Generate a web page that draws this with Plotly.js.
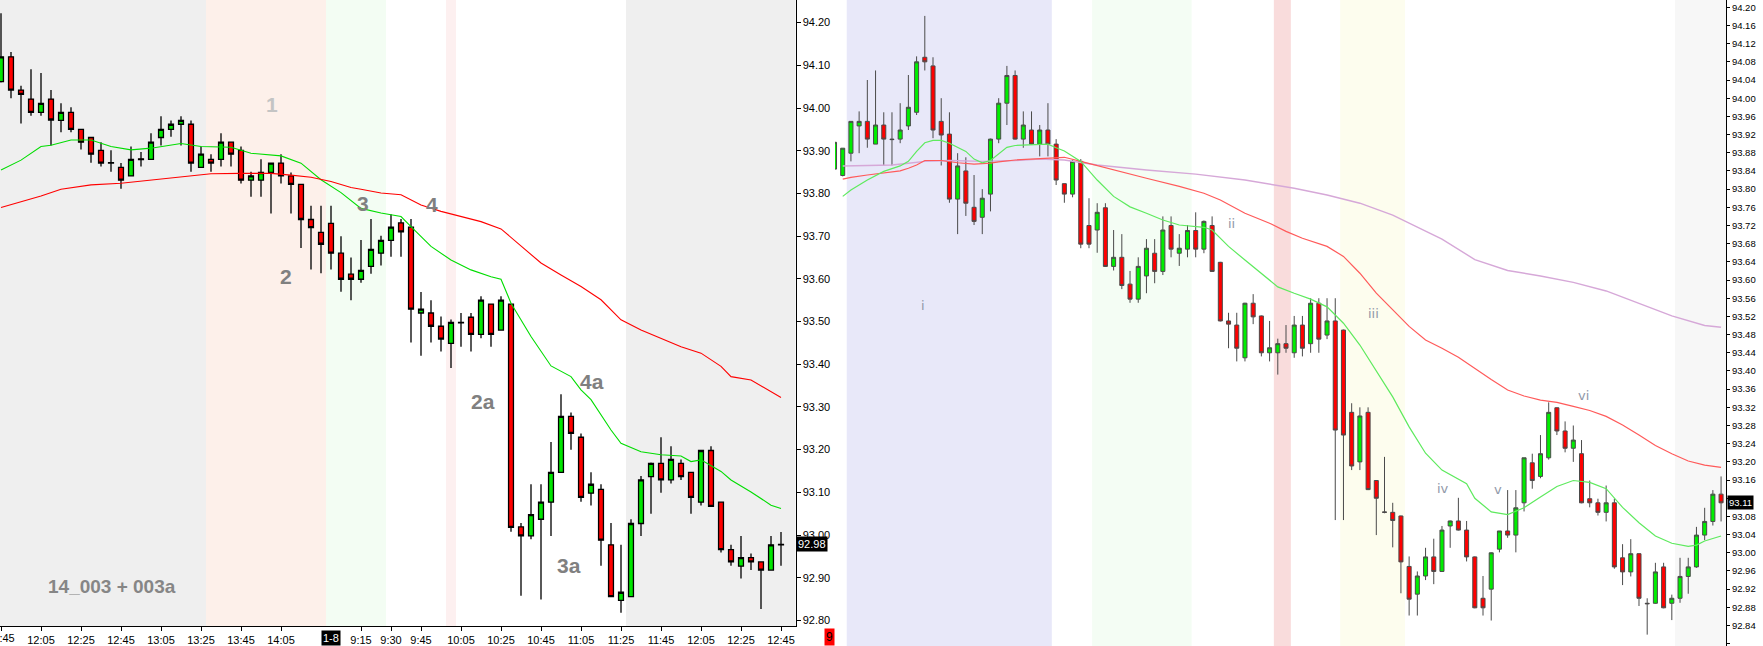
<!DOCTYPE html>
<html>
<head>
<meta charset="utf-8">
<script src="https://cdn.plot.ly/plotly-3.0.1.min.js"></script>
<style>html,body{margin:0;padding:0;background:#fff;}#chart{width:1763px;height:646px;}</style>
</head>
<body>
<div id="chart"></div>
<script>
// ---------- LEFT PANEL DATA (5-minute bars) ----------
const leftOpen  = [94.062,94.120,94.042,94.021,93.990,94.021,93.971,93.990,93.950,93.931,93.901,93.872,93.861,93.841,93.881,93.880,93.931,93.950,93.962,93.962,93.861,93.880,93.880,93.920,93.901,93.831,93.831,93.849,93.871,93.841,93.821,93.739,93.709,93.730,93.660,93.611,93.599,93.629,93.660,93.690,93.731,93.721,93.520,93.520,93.489,93.449,93.498,93.510,93.470,93.541,93.480,93.541,93.019,92.998,93.037,93.077,93.147,93.278,93.229,93.098,93.107,92.977,92.847,92.856,93.027,93.137,93.168,93.129,93.168,93.147,93.077,93.198,93.077,92.966,92.927,92.947,92.937,92.918,92.978];
const leftHigh  = [94.222,94.131,94.052,94.091,94.082,94.042,94.011,94.002,93.950,93.931,93.920,93.901,93.871,93.910,93.897,93.941,93.981,93.971,93.981,93.971,93.910,93.892,93.941,93.920,93.910,93.851,93.880,93.871,93.892,93.849,93.821,93.771,93.771,93.771,93.700,93.650,93.691,93.740,93.701,93.751,93.740,93.740,93.569,93.550,93.512,93.505,93.520,93.520,93.559,93.541,93.559,93.541,93.028,93.119,93.119,93.218,93.330,93.287,93.238,93.147,93.119,93.028,92.977,93.037,93.138,93.170,93.229,93.208,93.177,93.147,93.198,93.208,93.077,92.977,92.998,92.957,92.937,92.998,93.007];
const leftLow   = [94.060,94.023,93.964,93.982,93.982,93.912,93.943,93.943,93.903,93.872,93.863,93.851,93.811,93.841,93.863,93.880,93.912,93.933,93.912,93.851,93.861,93.851,93.863,93.863,93.823,93.792,93.792,93.753,93.823,93.753,93.672,93.622,93.613,93.622,93.570,93.550,93.591,93.612,93.631,93.652,93.652,93.451,93.420,93.451,93.430,93.391,93.441,93.430,93.461,93.441,93.480,93.008,92.858,92.990,92.849,92.998,93.147,93.200,93.078,93.069,92.928,92.856,92.818,92.856,92.998,93.050,93.099,93.121,93.129,93.050,93.069,93.067,92.959,92.928,92.898,92.918,92.827,92.918,92.928];
const leftClose = [94.120,94.042,94.032,93.990,94.011,93.972,93.990,93.950,93.920,93.892,93.871,93.871,93.831,93.880,93.879,93.920,93.950,93.962,93.971,93.871,93.892,93.871,93.920,93.892,93.831,93.841,93.849,93.871,93.841,93.821,93.739,93.720,93.681,93.660,93.599,93.599,93.620,93.669,93.690,93.721,93.710,93.529,93.529,93.489,93.459,93.498,93.497,93.470,93.550,93.470,93.550,93.018,92.998,93.048,93.077,93.147,93.278,93.238,93.088,93.119,92.988,92.856,92.866,93.027,93.129,93.168,93.129,93.177,93.137,93.088,93.198,93.067,92.966,92.937,92.947,92.937,92.918,92.977,92.977];

const leftFastX = [0,2,4,5,7,9,11,13,15,17,18,20,23,25,28,30,32,34,36,38,40,41,43,45,47,49,50,51,53,55,57,58,59,61,62,64,66,68,69,70,72,73,75,77,78];
const leftFastY = [93.855,93.878,93.910,93.913,93.925,93.925,93.910,93.902,93.906,93.913,93.917,93.910,93.908,93.894,93.888,93.871,93.832,93.802,93.765,93.754,93.746,93.722,93.676,93.644,93.621,93.605,93.599,93.543,93.465,93.396,93.371,93.340,93.317,93.246,93.215,93.195,93.188,93.185,93.172,93.176,93.149,93.129,93.101,93.070,93.062];
const leftSlowX = [0,2,4,6,9,12,15,18,21,24,27,29,31,33,35,36,38,40,42,44,46,48,50,52,54,56,58,60,62,64,66,68,70,72,73,75,78];
const leftSlowY = [93.767,93.781,93.794,93.810,93.820,93.824,93.831,93.839,93.846,93.847,93.847,93.843,93.838,93.828,93.814,93.810,93.801,93.797,93.773,93.758,93.746,93.734,93.717,93.676,93.637,93.609,93.582,93.551,93.504,93.480,93.461,93.441,93.426,93.395,93.371,93.363,93.322];

const leftTickPos  = [0,4,8,12,16,20,24,28,36,39,42,46,50,54,58,62,66,70,74,78];
const leftTickText = ['11:45','12:05','12:25','12:45','13:05','13:25','13:45','14:05','9:15','9:30','9:45','10:05','10:25','10:45','11:05','11:25','11:45','12:05','12:25','12:45'];
const dayMarkPos = 33;
const dayMarkText = '1-8';

// ---------- RIGHT PANEL DATA (bars -1 .. 107) ----------
const rightOpen  = [93.844,93.830,93.879,93.939,93.949,93.899,93.941,93.910,93.910,93.939,93.969,94.090,94.071,93.949,93.921,93.778,93.840,93.760,93.738,93.789,93.910,93.989,94.050,93.910,93.930,93.899,93.930,93.899,93.812,93.789,93.861,93.720,93.710,93.759,93.630,93.650,93.591,93.558,93.609,93.659,93.619,93.720,93.659,93.668,93.709,93.668,93.720,93.639,93.510,93.501,93.429,93.549,93.521,93.440,93.440,93.460,93.440,93.501,93.460,93.549,93.479,93.510,93.490,93.309,93.200,93.309,93.159,93.090,93.089,93.081,92.970,92.909,92.949,92.991,92.959,93.059,93.070,93.050,92.991,92.900,92.920,93.008,93.048,93.039,93.110,93.198,93.168,93.209,93.319,93.268,93.230,93.218,93.119,93.110,93.089,93.110,92.989,92.958,92.998,92.889,92.889,92.969,92.889,92.900,92.948,92.969,93.039,93.069,93.129];
const rightHigh  = [93.903,93.890,93.949,93.971,94.040,94.061,93.969,93.969,93.989,94.051,94.092,94.181,94.090,94.000,93.969,93.879,93.870,93.831,93.800,93.911,94.000,94.071,94.061,93.971,93.971,93.941,93.989,93.910,93.812,93.864,93.866,93.780,93.769,93.769,93.710,93.701,93.620,93.650,93.690,93.690,93.740,93.740,93.701,93.721,93.749,93.731,93.740,93.640,93.528,93.528,93.550,93.569,93.522,93.510,93.471,93.501,93.521,93.521,93.560,93.560,93.560,93.560,93.491,93.329,93.320,93.320,93.160,93.211,93.110,93.082,92.992,92.959,93.011,93.031,93.059,93.071,93.121,93.070,92.992,92.949,93.001,93.048,93.138,93.138,93.209,93.218,93.259,93.331,93.320,93.289,93.280,93.248,93.159,93.119,93.148,93.119,93.019,93.030,92.999,92.900,92.978,92.978,92.908,92.989,92.989,93.057,93.099,93.138,93.168];
const rightLow   = [93.844,93.828,93.861,93.879,93.891,93.899,93.852,93.852,93.901,93.930,93.963,94.061,93.912,93.852,93.770,93.701,93.741,93.721,93.701,93.751,93.901,93.941,93.909,93.891,93.898,93.872,93.872,93.809,93.770,93.782,93.670,93.670,93.660,93.629,93.621,93.580,93.550,93.550,93.571,93.593,93.611,93.650,93.631,93.650,93.650,93.659,93.618,93.509,93.450,93.421,93.421,93.503,93.432,93.421,93.392,93.440,93.429,93.432,93.440,93.440,93.470,93.072,93.072,93.182,93.182,93.138,93.039,93.087,93.012,92.911,92.862,92.862,92.940,92.931,92.958,93.011,93.049,92.981,92.878,92.862,92.851,93.001,93.033,93.001,93.091,93.141,93.164,93.205,93.259,93.221,93.200,93.109,93.100,93.082,93.069,92.965,92.929,92.948,92.883,92.820,92.888,92.878,92.852,92.890,92.910,92.967,93.028,93.060,93.069];
const rightClose = [93.903,93.890,93.949,93.949,93.910,93.941,93.910,93.909,93.930,93.980,94.080,94.080,93.930,93.919,93.778,93.851,93.769,93.729,93.780,93.910,93.989,94.050,93.910,93.941,93.899,93.930,93.899,93.820,93.789,93.861,93.679,93.679,93.749,93.630,93.650,93.588,93.558,93.630,93.670,93.619,93.710,93.668,93.670,93.709,93.668,93.729,93.619,93.510,93.503,93.450,93.549,93.519,93.440,93.451,93.460,93.450,93.501,93.450,93.549,93.470,93.510,93.270,93.259,93.191,93.301,93.139,93.120,93.089,93.071,92.980,92.898,92.949,92.991,92.959,93.050,93.070,93.050,92.991,92.879,92.879,93.000,93.048,93.039,93.099,93.209,93.159,93.218,93.309,93.268,93.230,93.248,93.110,93.110,93.089,93.110,92.969,92.958,92.998,92.900,92.888,92.958,92.879,92.900,92.948,92.969,93.039,93.069,93.129,93.110];

const rightFastX = [0,1,3,5,7,8,9,10,11,12,13,15,16,17,18,19,20,21,23,25,26,27,29,31,33,35,37,39,41,43,44,45,47,49,51,53,55,57,59,60,61,63,65,67,69,71,73,75,76,77,78,79,81,83,85,87,89,91,93,95,97,99,101,103,104,105,107];
const rightFastY = [93.784,93.798,93.820,93.839,93.851,93.861,93.883,93.902,93.907,93.907,93.901,93.883,93.866,93.858,93.863,93.877,93.892,93.896,93.897,93.899,93.891,93.884,93.861,93.820,93.784,93.761,93.747,93.732,93.721,93.717,93.716,93.710,93.674,93.644,93.615,93.585,93.571,93.558,93.541,93.523,93.505,93.457,93.399,93.343,93.277,93.219,93.182,93.162,93.152,93.120,93.104,93.090,93.084,93.099,93.123,93.146,93.159,93.155,93.141,93.100,93.066,93.037,93.021,93.014,93.017,93.026,93.037];
const rightMidX = [0,1,3,5,7,8,9,10,12,14,16,18,19,21,23,25,27,29,33,37,41,44,46,49,52,54,56,58,59,61,63,65,67,69,71,73,75,77,79,81,83,85,87,89,91,93,95,97,99,101,103,105,107];
const rightMidY = [93.822,93.826,93.831,93.836,93.840,93.846,93.853,93.863,93.863,93.858,93.855,93.857,93.860,93.864,93.866,93.869,93.870,93.861,93.842,93.824,93.806,93.791,93.776,93.747,93.725,93.707,93.692,93.681,93.674,93.652,93.615,93.571,93.534,93.498,93.468,93.450,93.430,93.405,93.381,93.358,93.345,93.336,93.331,93.322,93.313,93.300,93.281,93.259,93.236,93.218,93.202,93.193,93.188];
const rightSlowX = [0,3,6,8,10,13,17,21,24,27,31,37,43,49,55,59,63,67,73,77,81,85,89,93,97,101,105,107];
const rightSlowY = [93.851,93.852,93.853,93.857,93.861,93.863,93.861,93.863,93.866,93.864,93.853,93.842,93.833,93.820,93.802,93.787,93.769,93.743,93.690,93.645,93.621,93.609,93.595,93.576,93.548,93.521,93.500,93.496];

const leftLabels  = ['1','2','3','4','2a','4a','3a'];
const leftLabelX  = [27.1,28.5,36.2,43.1,48.2,59.1,56.8];
const leftLabelY  = [94.009,93.606,93.777,93.773,93.312,93.359,92.928];
const rightLabels = ['i','ii','iii','iv','v','vi'];
const rightLabelX = [9.8,47.4,64.7,73.1,79.8,90.3];
const rightLabelY = [93.543,93.725,93.527,93.142,93.140,93.345];
const panelNote = '14_003 + 003a';

const leftLast = 92.98;
const rightLast = 93.11;

// ---------- BUILD ----------
const W = 1763, H = 646;
const leftX = leftOpen.map((_, k) => k);
const rightX = rightOpen.map((_, k) => k - 1);

// right-axis ticks every 0.04; the one hidden under the last-price box is left blank
const rTickVals = [], rTickText = [];
for (let k = 0; k <= 35; k++) {
  const v = Math.round((92.80 + 0.04 * k) * 100) / 100;
  rTickVals.push(v);
  rTickText.push(Math.abs(v - rightLast) < 0.015 ? '' : v.toFixed(2));
}

const traces = [
  {type:'scatter', mode:'lines', x:leftFastX, y:leftFastY, xaxis:'x', yaxis:'y', line:{color:'#00dd00', width:1.1}, hoverinfo:'skip'},
  {type:'scatter', mode:'lines', x:leftSlowX, y:leftSlowY, xaxis:'x', yaxis:'y', line:{color:'#ff0000', width:1.1}, hoverinfo:'skip'},
  {type:'candlestick', x:leftX, open:leftOpen, high:leftHigh, low:leftLow, close:leftClose, xaxis:'x', yaxis:'y',
   increasing:{line:{color:'#000000', width:1.3}, fillcolor:'#00e600'},
   decreasing:{line:{color:'#000000', width:1.3}, fillcolor:'#ff0000'},
   whiskerwidth:0, hoverinfo:'skip'},
  {type:'scatter', mode:'lines', x:rightSlowX, y:rightSlowY, xaxis:'x2', yaxis:'y2', line:{color:'#d6a8d8', width:1.4}, hoverinfo:'skip'},
  {type:'scatter', mode:'lines', x:rightMidX, y:rightMidY, xaxis:'x2', yaxis:'y2', line:{color:'#ff5a5a', width:1.2}, hoverinfo:'skip'},
  {type:'scatter', mode:'lines', x:rightFastX, y:rightFastY, xaxis:'x2', yaxis:'y2', line:{color:'#5eea5e', width:1.2}, hoverinfo:'skip'},
  {type:'candlestick', x:rightX, open:rightOpen, high:rightHigh, low:rightLow, close:rightClose, xaxis:'x2', yaxis:'y2',
   increasing:{line:{color:'#4a4a4a', width:1}, fillcolor:'#00ee00'},
   decreasing:{line:{color:'#4a4a4a', width:1}, fillcolor:'#ff0000'},
   whiskerwidth:0, hoverinfo:'skip'}
];

function band(xref, x0, x1, color) {
  return {type:'rect', layer:'below', xref:xref, yref:(xref==='x'?'y domain':'y2 domain'), x0:x0, x1:x1, y0:0, y1:1, fillcolor:color, line:{width:0}};
}
const shapes = [
  band('x', -1, 20.5, '#efefef'),
  band('x', 20.5, 32.5, '#fdf0ea'),
  band('x', 32.5, 38.5, '#f3fdf3'),
  band('x', 44.5, 45.5, '#fdf0f0'),
  band('x', 62.5, 80, '#efefef'),
  band('x2', 0.49, 25.47, '#e8e8f9'),
  band('x2', 30.38, 42.5, '#f4fdf4'),
  band('x2', 52.52, 54.59, '#f9dcdc'),
  band('x2', 60.6, 68.5, '#fdfdee'),
  band('x2', 101.4, 110, '#f7f7f7')
];

const A = (o) => Object.assign({showarrow:false, xanchor:'center', yanchor:'middle'}, o);
const annotations = [];
leftLabels.forEach((t, k) => annotations.push(A({
  xref:'x', yref:'y', x:leftLabelX[k], y:leftLabelY[k], text:'<b>'+t+'</b>',
  font:{family:'Liberation Sans, sans-serif', size:21, color:(t==='1'?'#c4c4c4':'#808080')}
})));
annotations.push(A({xref:'paper', yref:'paper', x:112/W, y:(H-586)/H, text:'<b>'+panelNote+'</b>',
  font:{family:'Liberation Sans, sans-serif', size:19, color:'#868686'}}));
rightLabels.forEach((t, k) => annotations.push(A({
  xref:'x2', yref:'y2', x:rightLabelX[k], y:rightLabelY[k], text:t,
  font:{family:'DejaVu Sans, sans-serif', size:13, color:'#9098a8'}
})));
// first (cut-off) time label at the left edge
annotations.push(A({xref:'x', yref:'paper', x:leftTickPos[0], y:(H-638)/H, text:leftTickText[0],
  font:{family:'Liberation Sans, sans-serif', size:11, color:'#000000'}}));
annotations.push(A({xref:'x', yref:'paper', x:dayMarkPos, y:(H-638)/H, text:dayMarkText, bgcolor:'#000000', borderpad:1,
  font:{family:'Liberation Sans, sans-serif', size:11, color:'#ffffff'}}));
annotations.push(A({xref:'paper', yref:'y', x:796/W, xanchor:'left', y:leftLast, text:leftLast.toFixed(2), bgcolor:'#000000', borderpad:1,
  font:{family:'Liberation Sans, sans-serif', size:11, color:'#ffffff'}}));
annotations.push(A({xref:'paper', yref:'y2', x:1727/W, xanchor:'left', y:rightLast, text:rightLast.toFixed(2), bgcolor:'#000000', borderpad:1,
  font:{family:'Liberation Sans, sans-serif', size:9.5, color:'#ffffff'}}));
annotations.push(A({xref:'paper', yref:'paper', x:829.5/W, y:(H-637)/H, text:'9', bgcolor:'#ff0000', borderpad:1,
  font:{family:'Liberation Sans, sans-serif', size:12, color:'#000000'}}));

const layout = {
  width:W, height:H,
  margin:{l:0, r:0, t:0, b:0, pad:0},
  paper_bgcolor:'#ffffff', plot_bgcolor:'#ffffff',
  showlegend:false, hovermode:false, dragmode:false,
  xaxis:{domain:[0, 795.5/W], range:[-0.1, 79.45], anchor:'y', showgrid:false, zeroline:false,
    showline:true, linecolor:'#000000', linewidth:1, ticks:'outside', ticklen:4, tickcolor:'#000000',
    tickmode:'array', tickvals:leftTickPos, ticktext:leftTickText,
    tickfont:{family:'Liberation Sans, sans-serif', size:11, color:'#000000'},
    rangeslider:{visible:false}, fixedrange:true},
  yaxis:{domain:[(H-626)/H, 1], range:[92.787, 94.253], anchor:'x', side:'right', showgrid:false, zeroline:false,
    showline:true, linecolor:'#000000', linewidth:1, ticks:'outside', ticklen:4, tickcolor:'#000000',
    tick0:92.8, dtick:0.1, tickformat:'.2f',
    tickfont:{family:'Liberation Sans, sans-serif', size:11, color:'#000000'}, fixedrange:true},
  xaxis2:{domain:[835/W, 1726/W], range:[-0.94, 107.6], anchor:'y2', showgrid:false, zeroline:false,
    showline:false, showticklabels:false, ticks:'', rangeslider:{visible:false}, fixedrange:true},
  yaxis2:{domain:[0, 1], range:[92.795, 94.216], anchor:'x2', side:'right', showgrid:false, zeroline:false,
    showline:true, linecolor:'#000000', linewidth:1, ticks:'outside', ticklen:3, tickcolor:'#000000',
    tickmode:'array', tickvals:rTickVals, ticktext:rTickText,
    tickfont:{family:'Liberation Sans, sans-serif', size:9.5, color:'#000000'}, fixedrange:true},
  shapes:shapes,
  annotations:annotations
};

Plotly.newPlot('chart', traces, layout, {displayModeBar:false, staticPlot:true});
</script>
</body>
</html>
